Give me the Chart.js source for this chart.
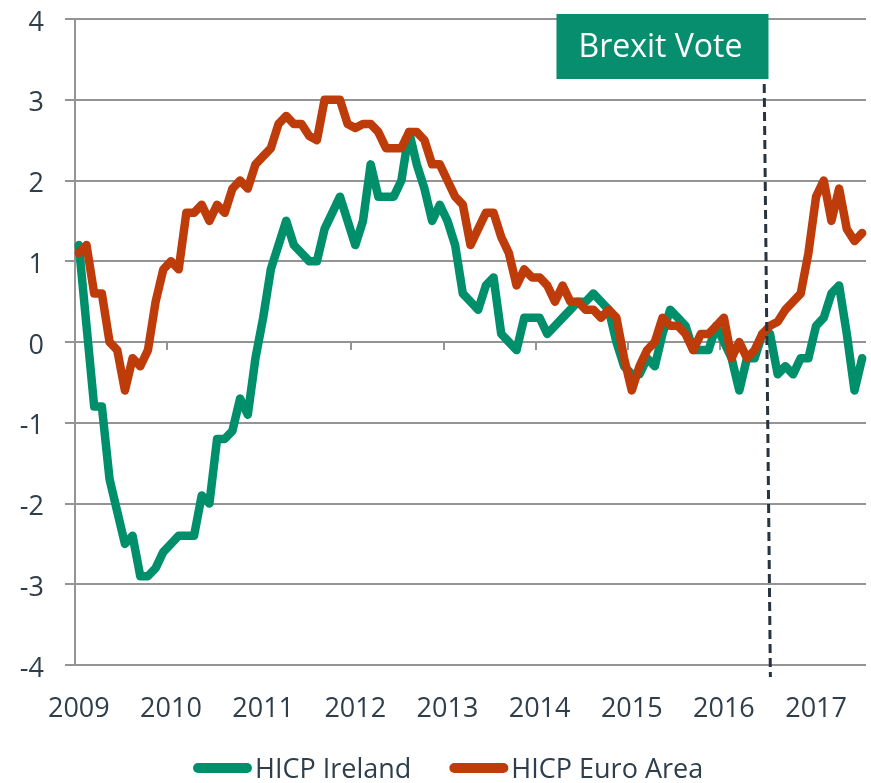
<!DOCTYPE html>
<html lang="en">
<head>
<meta charset="UTF-8">
<title>HICP Ireland vs Euro Area</title>
<script src="https://cdn.jsdelivr.net/npm/chart.js@4.4.1/dist/chart.umd.min.js"></script>
<style>
  body { margin: 0; background: #fff; }
  canvas { display: block; }
</style>
</head>
<body>
<canvas id="chart" width="871" height="783"></canvas>
<script>
  // year tick labels, 2017 only runs to July
  const years = ['2009', '2010', '2011', '2012', '2013', '2014', '2015', '2016', '2017'];
  const monthsInLastYear = 7;

  // annual HICP inflation, %, monthly from Jan 2009
  const hicpIreland = [
    1.2, 0.2, -0.8, -0.8, -1.7, -2.1, -2.5, -2.4, -2.9, -2.9, -2.8, -2.6,
    -2.5, -2.4, -2.4, -2.4, -1.9, -2.0, -1.2, -1.2, -1.1, -0.7, -0.9, -0.2,
    0.3, 0.9, 1.2, 1.5, 1.2, 1.1, 1.0, 1.0, 1.4, 1.6, 1.8, 1.5,
    1.2, 1.5, 2.2, 1.8, 1.8, 1.8, 2.0, 2.6, 2.2, 1.9, 1.5, 1.7,
    1.5, 1.2, 0.6, 0.5, 0.4, 0.7, 0.8, 0.1, 0.0, -0.1, 0.3, 0.3,
    0.3, 0.1, 0.2, 0.3, 0.4, 0.5, 0.5, 0.6, 0.5, 0.4, 0.0, -0.3,
    -0.4, -0.4, -0.2, -0.3, 0.1, 0.4, 0.3, 0.2, -0.1, -0.1, -0.1, 0.2,
    0.0, -0.2, -0.6, -0.2, -0.2, 0.1, 0.1, -0.4, -0.3, -0.4, -0.2, -0.2,
    0.2, 0.3, 0.6, 0.7, 0.1, -0.6, -0.2
  ];
  const hicpEuroArea = [
    1.1, 1.2, 0.6, 0.6, 0.0, -0.1, -0.6, -0.2, -0.3, -0.1, 0.5, 0.9,
    1.0, 0.9, 1.6, 1.6, 1.7, 1.5, 1.7, 1.6, 1.9, 2.0, 1.9, 2.2,
    2.3, 2.4, 2.7, 2.8, 2.7, 2.7, 2.55, 2.5, 3.0, 3.0, 3.0, 2.7,
    2.65, 2.7, 2.7, 2.6, 2.4, 2.4, 2.4, 2.6, 2.6, 2.5, 2.2, 2.2,
    2.0, 1.8, 1.7, 1.2, 1.4, 1.6, 1.6, 1.3, 1.1, 0.7, 0.9, 0.8,
    0.8, 0.7, 0.5, 0.7, 0.5, 0.5, 0.4, 0.4, 0.3, 0.4, 0.3, -0.2,
    -0.6, -0.3, -0.1, 0.0, 0.3, 0.2, 0.2, 0.1, -0.1, 0.1, 0.1, 0.2,
    0.3, -0.2, 0.0, -0.2, -0.1, 0.1, 0.2, 0.25, 0.4, 0.5, 0.6, 1.1,
    1.8, 2.0, 1.5, 1.9, 1.4, 1.25, 1.35
  ];

  const brexitText = 'Brexit Vote';
  const brexitMonth = 89.6;   // late June 2016 on the month index
  const brexitLean = 0.45;    // the marker leans a little in the source

  const textColor = '#2f3e4b';
  const gridColor = '#949494';
  const green = '#008f6b';
  const red = '#be3c0a';

  let months = [];
  for (const y of years) {
    const n = y === years[years.length - 1] ? monthsInLastYear : 12;
    for (let m = 1; m <= n; m++) months.push(y + '-' + String(m).padStart(2, '0'));
  }

  Chart.defaults.font.family = '"Open Sans", sans-serif';

  // small ticks on the zero line at each year boundary
  const zeroTicks = {
    id: 'zeroTicks',
    beforeDatasetsDraw(chart) {
      const { ctx, scales: { x, y } } = chart;
      const y0 = y.getPixelForValue(0);
      ctx.save();
      ctx.strokeStyle = gridColor;
      ctx.lineWidth = 2;
      for (let k = 1; k < years.length; k++) {
        const xb = Math.round(x.getPixelForValue(k * 12 - 0.5));
        ctx.beginPath();
        ctx.moveTo(xb, y0);
        ctx.lineTo(xb, y0 + 8);
        ctx.stroke();
      }
      ctx.restore();
    }
  };

  const brexitMarker = {
    id: 'brexitMarker',
    afterDatasetsDraw(chart) {
      const { ctx, chartArea, scales: { x } } = chart;
      const top = chartArea.top - 5;
      const bottom = chartArea.bottom + 12;
      const xTop = x.getPixelForValue(brexitMonth - brexitLean);
      const xBot = x.getPixelForValue(brexitMonth + brexitLean);
      ctx.save();
      ctx.strokeStyle = '#27333e';
      ctx.lineWidth = 3;
      ctx.setLineDash([9, 5]);
      ctx.beginPath();
      ctx.moveTo(xTop, top);
      ctx.lineTo(xBot, bottom);
      ctx.stroke();
      ctx.setLineDash([]);

      const boxRight = xTop + 5;
      const boxW = 212, boxH = 65;
      ctx.fillStyle = '#068e6e';
      ctx.fillRect(boxRight - boxW, top, boxW, boxH);
      ctx.fillStyle = '#ffffff';
      ctx.font = '32px "Open Sans"';
      ctx.textAlign = 'center';
      ctx.textBaseline = 'middle';
      ctx.fillText(brexitText, boxRight - boxW / 2 - 2, top + boxH / 2 + 1);
      ctx.restore();
    }
  };

  const lineLegend = {
    id: 'lineLegend',
    afterDraw(chart) {
      const ctx = chart.ctx;
      ctx.save();
      ctx.font = '27px "Open Sans"';
      ctx.textAlign = 'left';
      ctx.textBaseline = 'alphabetic';
      let xPos = 193;
      chart.data.datasets.forEach(ds => {
        ctx.strokeStyle = ds.borderColor;
        ctx.lineWidth = 10;
        ctx.lineCap = 'round';
        ctx.beginPath();
        ctx.moveTo(xPos + 5, 768);
        ctx.lineTo(xPos + 54, 768);
        ctx.stroke();
        xPos += 62;
        ctx.fillStyle = textColor;
        ctx.fillText(ds.label, xPos, 778);
        xPos += ctx.measureText(ds.label).width + 38;
      });
      ctx.restore();
    }
  };

  new Chart(document.getElementById('chart'), {
    type: 'line',
    data: {
      labels: months,
      datasets: [{
        label: 'HICP Ireland',
        data: hicpIreland,
        borderColor: green,
        backgroundColor: green,
        borderWidth: 8.5,
        pointRadius: 0,
        tension: 0,
        borderJoinStyle: 'round',
        borderCapStyle: 'round',
        clip: false,
        order: 1
      }, {
        label: 'HICP Euro Area',
        data: hicpEuroArea,
        borderColor: red,
        backgroundColor: red,
        borderWidth: 8.5,
        pointRadius: 0,
        tension: 0,
        borderJoinStyle: 'round',
        borderCapStyle: 'round',
        clip: false,
        order: 0
      }]
    },
    options: {
      responsive: false,
      animation: false,
      events: [],
      layout: { padding: { top: 19, right: 5, bottom: 60, left: 0 } },
      plugins: {
        legend: { display: false },
        tooltip: { enabled: false }
      },
      scales: {
        x: {
          type: 'category',
          offset: true,
          grid: { display: false },
          border: { display: false },
          ticks: {
            autoSkip: false,
            maxRotation: 0,
            minRotation: 0,
            padding: 20,
            color: textColor,
            font: { size: 27 },
            callback: function (value) {
              const lab = this.getLabelForValue(value);
              return lab.endsWith('-01') ? lab.slice(0, 4) : '';
            }
          },
          afterFit(scale) {
            scale.height = 58;
            scale.paddingLeft = 0;
            scale.paddingRight = 0;
          }
        },
        y: {
          min: -4,
          max: 4,
          ticks: {
            stepSize: 1,
            padding: 21,
            labelOffset: 4,
            color: textColor,
            font: { size: 27 }
          },
          grid: { color: gridColor, lineWidth: 2, tickLength: 10, drawTicks: true },
          border: { display: true, color: gridColor, width: 2 },
          afterFit(scale) {
            scale.width = 75;
            scale.paddingTop = 0;
            scale.paddingBottom = 0;
          }
        }
      }
    },
    plugins: [zeroTicks, brexitMarker, lineLegend]
  });
</script>
</body>
</html>
